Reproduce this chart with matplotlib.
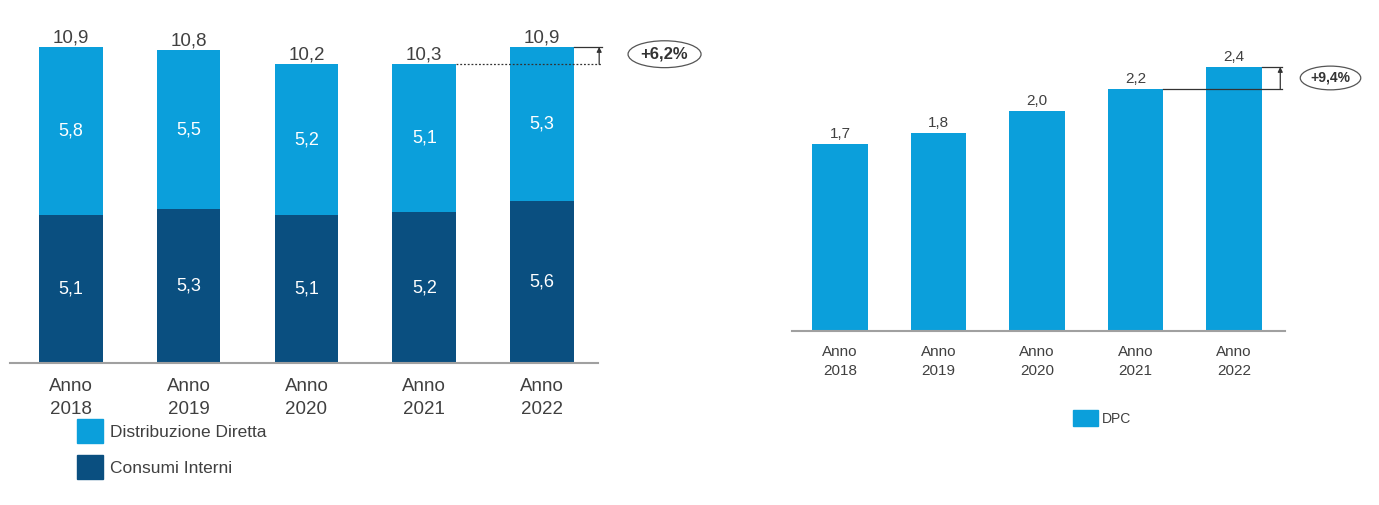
import matplotlib.pyplot as plt
from matplotlib.patches import Patch

plt.rcParams["font.family"] = ["Liberation Sans", "DejaVu Sans"]

YEARS = ["Anno\n2018", "Anno\n2019", "Anno\n2020", "Anno\n2021", "Anno\n2022"]
CONSUMI = [5.1, 5.3, 5.1, 5.2, 5.6]
DIRETTA = [5.8, 5.5, 5.2, 5.1, 5.3]
TOTALI = [10.9, 10.8, 10.2, 10.3, 10.9]
DPC = [1.7, 1.8, 2.0, 2.2, 2.4]
DELTA_LEFT = "+6,2%"
DELTA_RIGHT = "+9,4%"

LIGHT = "#0b9fdb"
DARK = "#0a4f80"
GRAY = "#404040"
AXIS = "#a0a0a0"


def fmt(v):
    return f"{v:.1f}".replace(".", ",")


fig = plt.figure(figsize=(13.79, 5.05), dpi=100)

# left: stacked bars
ax1 = fig.add_axes([10 / 1379, 142 / 505, 588 / 1379, 343 / 505])
x = list(range(len(YEARS)))
ax1.bar(x, CONSUMI, width=0.54, color=DARK)
ax1.bar(x, DIRETTA, width=0.54, bottom=CONSUMI, color=LIGHT)
for i in x:
    ax1.text(i, CONSUMI[i] / 2, fmt(CONSUMI[i]), ha="center", va="center",
             color="white", fontsize=13)
    ax1.text(i, CONSUMI[i] + DIRETTA[i] / 2, fmt(DIRETTA[i]), ha="center",
             va="center", color="white", fontsize=13)
    ax1.text(i, CONSUMI[i] + DIRETTA[i] + 0.02, fmt(TOTALI[i]),
             ha="center", va="bottom", color=GRAY, fontsize=13.5)
ax1.set_xlim(-0.517, 4.475)
ax1.set_ylim(0, 11.83)

top_a = CONSUMI[3] + DIRETTA[3]
top_b = CONSUMI[4] + DIRETTA[4]
ax1.plot([3.27, 4.51], [top_a, top_a], color="#333333", lw=0.9,
         ls=(0, (1.5, 1.5)), clip_on=False, zorder=3)
ax1.plot([4.27, 4.51], [top_b, top_b], color="#333333", lw=0.9,
         clip_on=False, zorder=3)
ax1.annotate("", xy=(4.485, top_b), xytext=(4.485, top_a),
             arrowprops=dict(arrowstyle="-|>", color="#333333", lw=0.9,
                             mutation_scale=7, shrinkA=0, shrinkB=0),
             annotation_clip=False)
ax1.text(5.04, (top_a + top_b) / 2 + 0.05, DELTA_LEFT, ha="center",
         va="center", fontsize=12, fontweight="bold", color="#333333",
         bbox=dict(boxstyle="ellipse,pad=0.12", fc="white", ec="#555555",
                   lw=0.9), clip_on=False)

# right: DPC
ax2 = fig.add_axes([792 / 1379, 174 / 505, 493 / 1379, 311 / 505])
ax2.bar(x, DPC, width=0.56, color=LIGHT)
for i in x:
    ax2.text(i, DPC[i] + 0.03, fmt(DPC[i]), ha="center", va="bottom",
             color=GRAY, fontsize=11)
ax2.set_xlim(-0.487, 4.518)
ax2.set_ylim(0, 2.827)

ax2.plot([3.28, 4.49], [DPC[3], DPC[3]], color="#333333", lw=0.9,
         clip_on=False, zorder=3)
ax2.plot([4.28, 4.49], [DPC[4], DPC[4]], color="#333333", lw=0.9,
         clip_on=False, zorder=3)
ax2.annotate("", xy=(4.47, DPC[4]), xytext=(4.47, DPC[3]),
             arrowprops=dict(arrowstyle="-|>", color="#333333", lw=0.9,
                             mutation_scale=7, shrinkA=0, shrinkB=0),
             annotation_clip=False)
ax2.text(4.98, (DPC[3] + DPC[4]) / 2 + 0.0, DELTA_RIGHT, ha="center",
         va="center", fontsize=10, fontweight="bold", color="#333333",
         bbox=dict(boxstyle="ellipse,pad=0.1", fc="white", ec="#555555",
                   lw=0.9), clip_on=False)

for ax, fs, pad, ls in [(ax1, 13.5, 11, 1.45), (ax2, 11, 10, 1.5)]:
    for s in ["top", "right", "left"]:
        ax.spines[s].set_visible(False)
    ax.spines["bottom"].set_color(AXIS)
    ax.spines["bottom"].set_linewidth(1.5)
    ax.set_yticks([])
    ax.set_xticks(x)
    ax.set_xticklabels(YEARS, fontsize=fs, color=GRAY, linespacing=ls)
    ax.tick_params(axis="x", length=0, pad=pad)

fig.legend(handles=[Patch(color=LIGHT, label="Distribuzione Diretta"),
                    Patch(color=DARK, label="Consumi Interni")],
           loc="upper left", bbox_to_anchor=(77 / 1379, 1 - 419 / 505),
           frameon=False, fontsize=12.5, handlelength=1.5,
           handleheight=1.75, handletextpad=0.4, labelspacing=0.7,
           labelcolor=GRAY, borderpad=0, borderaxespad=0)
fig.legend(handles=[Patch(color=LIGHT, label="DPC")],
           loc="upper left", bbox_to_anchor=(1073 / 1379, 1 - 410 / 505),
           frameon=False, fontsize=10, handlelength=1.8, handleheight=1.45,
           handletextpad=0.3, labelcolor=GRAY, borderpad=0,
           borderaxespad=0)

fig.savefig("out.png", dpi=100)
